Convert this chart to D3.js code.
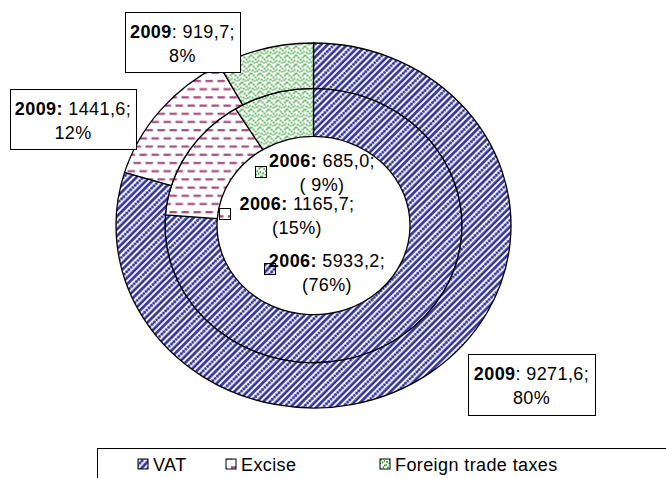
<!DOCTYPE html>
<html>
<head>
<meta charset="utf-8">
<script src="https://cdn.jsdelivr.net/npm/d3@7"></script>
<style>
  html, body { margin: 0; padding: 0; background: #fff; }
  svg { display: block; font-family: "Liberation Sans", Arial, sans-serif; }
</style>
</head>
<body>
<div id="chart-area"></div>
<script>
/***** Data *****/
const categories = ["VAT", "Excise", "Foreign trade taxes"];
const values2009 = [9271.6, 1441.6, 919.7];
const values2006 = [5933.2, 1165.7, 685.0];
const head2009   = ["2009", "2009:", "2009"];
const text2009   = [": 9271,6;", " 1441,6;", ": 919,7;"];
const pct2009    = ["80%", "12%", "8%"];
const head2006   = ["2006:", "2006:", "2006:"];
const text2006   = [" 5933,2;", " 1165,7;", " 685,0;"];
const pct2006    = ["(76%)", "(15%)", "( 9%)"];

/***** Layout *****/
const W = 666, H = 478,
      cx = 313.5, cy = 225.5, squash = 0.924,
      rOuter = 197.5, rMid = 148.5, rInner = 96.5,
      fontSize = 18, lineGap = 24;

// outer ring label boxes [x, y, w, h]
const boxPos   = [[468, 354, 127, 61], [10, 89, 126, 60], [125, 12, 115, 60]];
// inner ring labels [text centre x, first baseline, key centre x, key centre y]
const innerPos = [[327, 267, 270, 269], [297, 210, 225, 214], [322, 167, 261, 172]];
// legend key x positions
const legendX  = [143, 231, 385], legendY = 464;

const colVat = "#30309a", colExc = "#a14d7d", colFor = "#1f951f";

/***** SVG *****/
const svg = d3.select("#chart-area").append("svg")
    .attr("width", W).attr("height", H)
    .style("letter-spacing", "0.4px");

/***** Fill patterns *****/
const defs = svg.append("defs");
const fix = `scale(1,${1 / squash})`;

// VAT: blue "/" stripes, one in three dotted
const pVat = defs.append("pattern").attr("id", "pat-0")
    .attr("patternUnits", "userSpaceOnUse")
    .attr("width", 13.8).attr("height", 9.6)
    .attr("patternTransform", `${fix} rotate(45)`);
pVat.append("rect").attr("width", 13.8).attr("height", 9.6).attr("fill", "#fff");
[0.4, 5.0].forEach(x => pVat.append("rect")
    .attr("x", x).attr("width", 2.7).attr("height", 9.6).attr("fill", colVat));
[1.6, 4.8, 8].forEach(y => pVat.append("circle")
    .attr("cx", 11).attr("cy", y).attr("r", 1.55).attr("fill", colVat));

// Excise: rows of short horizontal dashes
const pExc = defs.append("pattern").attr("id", "pat-1")
    .attr("patternUnits", "userSpaceOnUse")
    .attr("width", 12).attr("height", 16.4)
    .attr("patternTransform", fix);
pExc.append("rect").attr("width", 12).attr("height", 16.4).attr("fill", "#fff");
[[0, 2, 7.5], [6, 10.2, 6], [0, 10.2, 1.5]].forEach(([x, y, w]) => pExc.append("rect")
    .attr("x", x).attr("y", y).attr("width", w).attr("height", 2.2).attr("fill", colExc));

// Foreign trade: scattered green dots and zigzags
const pFor = defs.append("pattern").attr("id", "pat-2")
    .attr("patternUnits", "userSpaceOnUse")
    .attr("width", 9).attr("height", 9)
    .attr("patternTransform", fix);
pFor.append("rect").attr("width", 9).attr("height", 9).attr("fill", "#fff");
[[0.3, 0.3], [2.3, 2.3], [4.3, 4.3], [6.6, 2.1], [5.8, 6.8], [1.3, 6.3], [7.8, 5.3], [3.5, 7.8], [8, 0.5]]
  .forEach(([x, y]) => pFor.append("rect")
    .attr("x", x).attr("y", y).attr("width", 1.6).attr("height", 1.6).attr("fill", colFor));

/***** Rings *****/
const pie = d3.pie().sort(null);
const arc = d3.arc();
const gPie = svg.append("g")
    .attr("transform", `translate(${cx},${cy}) scale(1,${squash})`);

function drawRing(vals, r0, r1) {
  gPie.append("g").selectAll("path")
    .data(pie(vals))
    .join("path")
      .attr("d", d => arc.innerRadius(r0).outerRadius(r1)(d))
      .attr("fill", (d, i) => `url(#pat-${i})`)
      .attr("stroke", "#000").attr("stroke-width", 1.3)
      .attr("vector-effect", "non-scaling-stroke");
}
drawRing(values2006, rInner, rMid);
drawRing(values2009, rMid, rOuter);

/***** Outer labels (2009) *****/
categories.forEach((c, i) => {
  const [x, y, w, h] = boxPos[i];
  const g = svg.append("g");
  g.append("rect").attr("x", x + 0.5).attr("y", y + 0.5)
    .attr("width", w).attr("height", h)
    .attr("fill", "#fff").attr("stroke", "#000").attr("stroke-width", 1);
  const t = g.append("text").attr("x", x + w / 2).attr("y", y + 26)
    .attr("text-anchor", "middle").attr("font-size", fontSize);
  t.append("tspan").attr("font-weight", "bold").text(head2009[i]);
  t.append("tspan").text(text2009[i]);
  g.append("text").attr("x", x + w / 2).attr("y", y + 26 + lineGap)
    .attr("text-anchor", "middle").attr("font-size", fontSize).text(pct2009[i]);
});

/***** Inner labels (2006) *****/
categories.forEach((c, i) => {
  const [tx, ty, kx, ky] = innerPos[i];
  svg.append("rect").attr("x", kx - 5.5).attr("y", ky - 5.5)
    .attr("width", 11).attr("height", 11)
    .attr("fill", `url(#pat-${i})`).attr("stroke", "#000").attr("stroke-width", 1);
  const t = svg.append("text").attr("x", tx).attr("y", ty)
    .attr("text-anchor", "middle").attr("font-size", fontSize);
  t.append("tspan").attr("font-weight", "bold").text(head2006[i]);
  t.append("tspan").text(text2006[i]);
  svg.append("text").attr("x", tx).attr("y", ty + lineGap)
    .attr("text-anchor", "middle").attr("font-size", fontSize).text(pct2006[i]);
});

/***** Legend *****/
svg.append("rect").attr("x", 97.5).attr("y", 448.5)
  .attr("width", 700).attr("height", 100)
  .attr("fill", "none").attr("stroke", "#000").attr("stroke-width", 1);

const leg = svg.append("g").selectAll("g")
  .data(categories)
  .join("g")
    .attr("transform", (d, i) => `translate(${legendX[i]},${legendY})`);
leg.append("rect").attr("x", -5).attr("y", -5).attr("width", 10).attr("height", 10)
  .attr("fill", (d, i) => `url(#pat-${i})`).attr("stroke", "#000").attr("stroke-width", 1);
leg.append("text").attr("x", 10).attr("y", 7)
  .attr("font-size", fontSize).text(d => d);
</script>
</body>
</html>
